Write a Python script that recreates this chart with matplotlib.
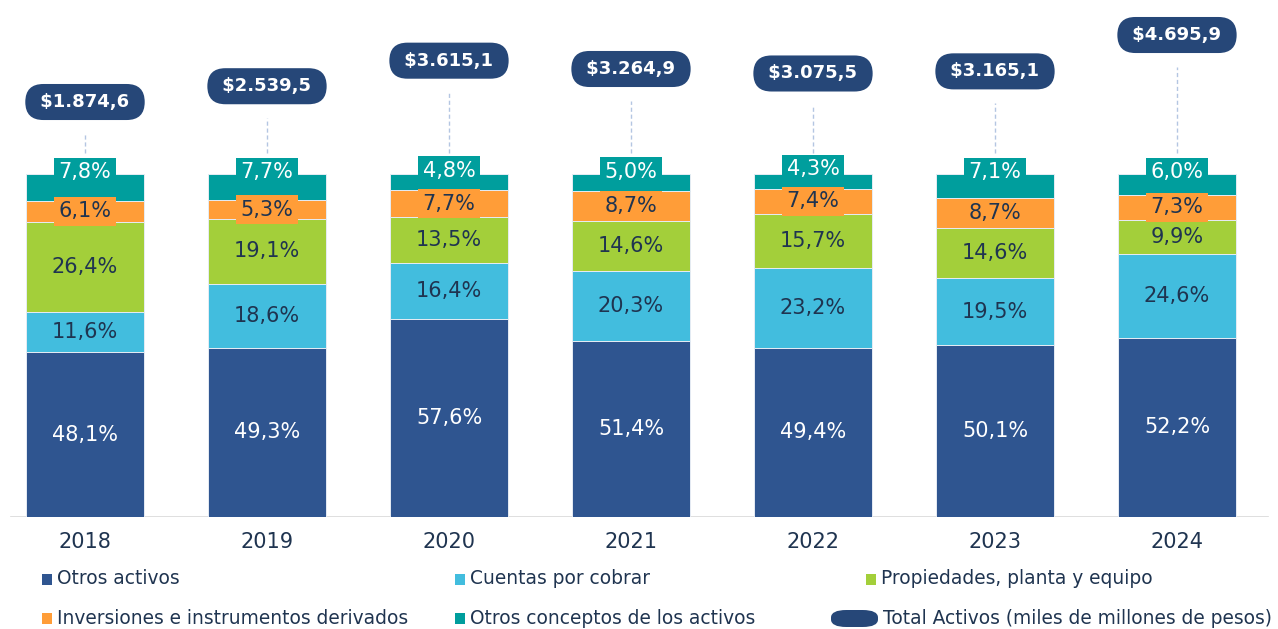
import numpy as np
import matplotlib
matplotlib.use("Agg")
import matplotlib.pyplot as plt
from matplotlib.patches import Rectangle, FancyBboxPatch

# ---- datos ----
years = ["2018", "2019", "2020", "2021", "2022", "2023", "2024"]
otros_activos = [48.1, 49.3, 57.6, 51.4, 49.4, 50.1, 52.2]
cuentas_cobrar = [11.6, 18.6, 16.4, 20.3, 23.2, 19.5, 24.6]
propiedades = [26.4, 19.1, 13.5, 14.6, 15.7, 14.6, 9.9]
inversiones = [6.1, 5.3, 7.7, 8.7, 7.4, 8.7, 7.3]
otros_conceptos = [7.8, 7.7, 4.8, 5.0, 4.3, 7.1, 6.0]
total_activos = [1874.6, 2539.5, 3615.1, 3264.9, 3075.5, 3165.1, 4695.9]

series_names = ["Otros activos", "Cuentas por cobrar", "Propiedades, planta y equipo",
                "Inversiones e instrumentos derivados", "Otros conceptos de los activos"]
colors = ["#2F5590", "#42BDDE", "#A3CF3A", "#FF9D38", "#009E9D"]
text_colors = ["white", "#1F3450", "#1F3450", "#1F3450", "white"]
PILL = "#264778"
DARK = "#1F3450"

W, H = 1278, 629
fig = plt.figure(figsize=(W / 100, H / 100), dpi=100)
plt.rcParams["font.family"] = ["DejaVu Sans"]

base_px, top_px = 517, 174          # filas de píxel del 0% y del 100%
ax = fig.add_axes([0, (H - base_px) / H, 1, base_px / H])
ymax = 100 * base_px / (base_px - top_px)
ax.set_ylim(0, ymax)
ax.set_xlim(-85 / 182, (W - 85) / 182)

x = np.arange(len(years))
series = [otros_activos, cuentas_cobrar, propiedades, inversiones, otros_conceptos]
bottom = np.zeros(len(years))
for k, (vals, col) in enumerate(zip(series, colors)):
    vals = np.array(vals)
    ax.bar(x, vals, 0.648, bottom=bottom, color=col, edgecolor="#E6ECF4",
           linewidth=0.7, zorder=2)
    for i, v in enumerate(vals):
        if k == 4:
            y = 100.5 + max(0.0, 5.2 - v)
        else:
            y = bottom[i] + v / 2
        ax.text(x[i], y, f"{v:.1f}%".replace(".", ","), ha="center", va="center",
                fontsize=15, color=text_colors[k], zorder=3 + (1 if k == 3 else 0),
                bbox=dict(boxstyle="square,pad=0.22", fc=col, ec="none"))
    bottom += vals

ax.axhline(0, xmin=11 / W, xmax=1268 / W, color="#D9D9D9", lw=1.2, zorder=1)
ax.set_xticks(x)
ax.set_xticklabels(years, fontsize=15, color=DARK)
ax.tick_params(axis="x", length=0, pad=11)
ax.set_yticks([])
for s in ax.spines.values():
    s.set_visible(False)

# ---- total activos (eje secundario) ----
ax2 = ax.twinx()
lo, hi = -15600, 6170
ax2.set_ylim(lo, hi)
ax2.set_yticks([])
for s in ax2.spines.values():
    s.set_visible(False)
units_per_px = (hi - lo) / base_px
line_bottom = lo + (106 / ymax) * (hi - lo)
for i, t in enumerate(total_activos):
    ax2.vlines(x[i], line_bottom, t - 32 * units_per_px, colors="#B4C6E2",
               linestyles=(0, (3, 2)), lw=1, zorder=1)
    lbl = f"{t:,.1f}".replace(",", "X").replace(".", ",").replace("X", ".")
    ax2.text(x[i], t, f" ${lbl} ", ha="center", va="center", fontsize=13,
             fontweight="bold", color="white", zorder=5,
             bbox=dict(boxstyle="round,pad=0.5,rounding_size=1.0", fc=PILL, ec="none"))

# ---- leyenda ----
def fx(px):
    return px / W

def fy(py):
    return 1 - py / H

legend_items = [
    (42, 579, 0), (455, 579, 1), (866, 579, 2),
    (42, 618, 3), (455, 618, 4),
]
for px, py, k in legend_items:
    fig.patches.append(Rectangle((fx(px), fy(py + 6)), 10 / W, 11 / H,
                                 transform=fig.transFigure, fc=colors[k], ec="none"))
    fig.text(fx(px + 15), fy(py), series_names[k], fontsize=13.4, color=DARK,
             ha="left", va="center")
fig.patches.append(FancyBboxPatch((fx(831), fy(627)), 47 / W, 17 / H,
                                  boxstyle="round,pad=0,rounding_size=0.012",
                                  transform=fig.transFigure, fc=PILL, ec="none"))
fig.text(fx(883), fy(618), "Total Activos (miles de millones de pesos)", fontsize=13.4,
         color=DARK, ha="left", va="center")

fig.savefig("out.png", dpi=100)
